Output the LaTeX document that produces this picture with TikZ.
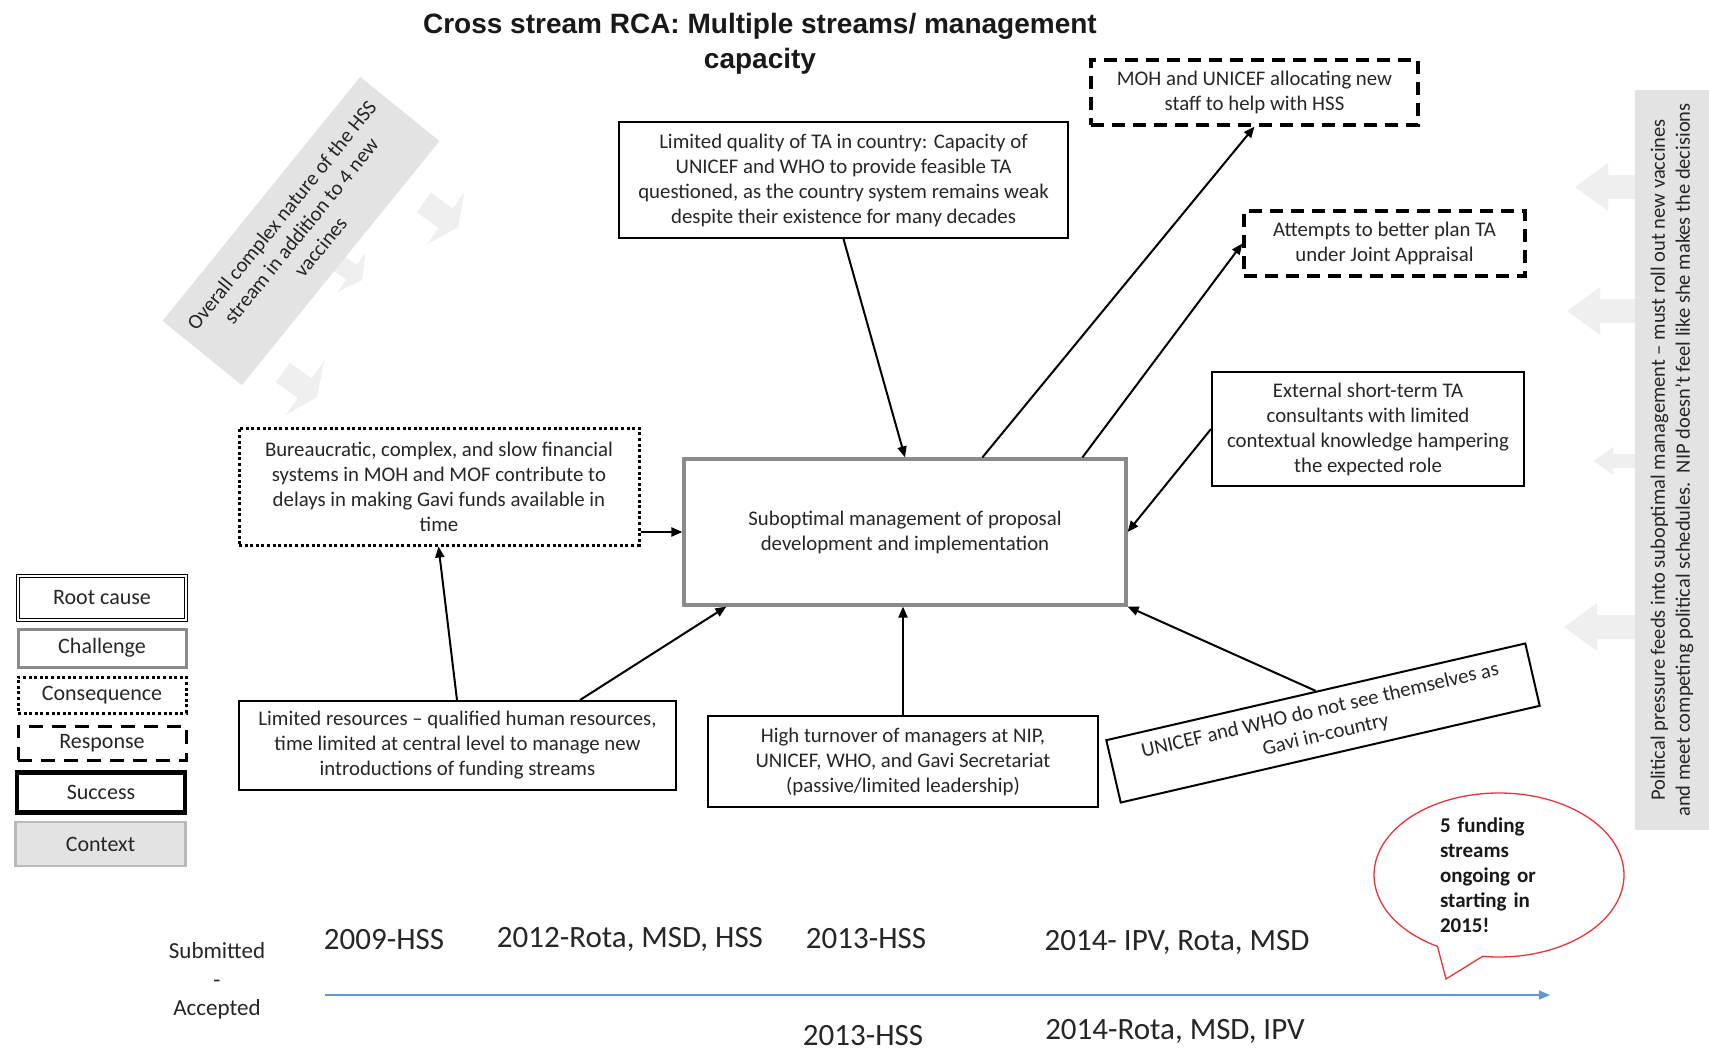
\documentclass[tikz,border=0pt]{standalone}
\usepackage{fontspec}
\setmainfont{Carlito}
\newfontfamily\titlefont{Liberation Sans}
\usetikzlibrary{arrows.meta,calc,shapes.callouts}
\definecolor{ctxgray}{HTML}{E3E3E3}
\definecolor{arrgray}{HTML}{EFEFEF}
\definecolor{midgray}{HTML}{8A8A8A}
\definecolor{tlblue}{HTML}{5B9BD5}
\definecolor{bubred}{HTML}{EE3333}
\newcommand\grayarrow[8]{% tip x, tip y, rotate, head len, head half, shaft half, shaft end
  \fill[arrgray, shift={(#1,#2)}, rotate=#3] (0,0) -- (#4,-#5) -- (#4,-#6) -- (#7,-#6) -- (#7,#6) -- (#4,#6) -- (#4,#5) -- cycle;}
\begin{document}
\begin{tikzpicture}[x=1pt,y=-1pt,
  txt/.style={font=\fontsize{20.8}{25}\selectfont, align=center, text=black!85},
  plainbox/.style={txt, draw=black, line width=2pt, inner sep=0pt},
  chalbox/.style={txt, draw=midgray, line width=3.2pt, inner sep=0pt},
  consbox/.style={txt, draw=black, line width=3pt, dash pattern=on 3pt off 2.6pt, inner sep=0pt},
  respbox/.style={txt, draw=black, line width=3.2pt, dash pattern=on 13pt off 8pt, inner sep=0pt},
  ctxbox/.style={txt, fill=ctxgray, inner sep=0pt},
  conn/.style={draw=black, line width=2pt, -{Triangle[length=11pt,width=9pt]}},
  leg/.style={font=\fontsize{22}{24}\selectfont, text=black!85, inner sep=0pt, minimum width=168},
  yeartxt/.style={font=\fontsize{31}{34}\selectfont, text=black!85, inner sep=0pt},
]
\fill[white] (0,0) rectangle (1709,1051);
\useasboundingbox (0,0) rectangle (1709,1051);

% title
\node[font=\titlefont\bfseries\fontsize{28}{35}\selectfont, align=center, text=black!90] (title) at (760,44)
  {Cross stream RCA: Multiple streams/ management\\capacity};

% faint arrows from the context boxes
\grayarrow{458}{227}{144.4}{15}{32}{12}{42}{}
\grayarrow{362}{280}{144.4}{13}{24}{9}{34}{}
\grayarrow{317}{397}{144.4}{15}{33}{12}{42}{}
\grayarrow{1575}{187}{0}{33}{24}{12}{70}{}
\grayarrow{1567}{311}{0}{33}{24}{12}{75}{}
\grayarrow{1594}{461}{0}{19}{14}{7}{50}{}
\grayarrow{1564}{627}{0}{33}{24}{12}{75}{}

% context boxes
\node[ctxbox, rotate=51, minimum width=314, minimum height=102] (ctx) at (301,231)
  {Overall complex nature of the HSS\\stream in addition to 4 new\\vaccines};
\node[ctxbox, rotate=90, minimum width=740, minimum height=74, font=\fontsize{20.5}{25}\selectfont] (pol) at (1672,460)
  {Political pressure feeds into suboptimal management -- must roll out new vaccines\\and meet competing political schedules.\ \ NIP doesn't feel like she makes the decisions};

% main boxes
\node[plainbox, minimum width=449, minimum height=116] (lq) at (843.5,180)
  {Limited quality of TA in country: Capacity of\\UNICEF and WHO to provide feasible TA\\questioned, as the country system remains weak\\despite their existence for many decades};
\node[respbox, minimum width=327, minimum height=65] (moh) at (1254.5,92.5)
  {MOH and UNICEF allocating new\\staff to help with HSS};
\node[respbox, minimum width=281, minimum height=65] (att) at (1384.5,243.5)
  {Attempts to better plan TA\\under Joint Appraisal};
\node[plainbox, minimum width=312, minimum height=114] (ext) at (1368,429)
  {External short-term TA\\consultants with limited\\contextual knowledge hampering\\the expected role};
\node[consbox, minimum width=400, minimum height=117] (bur) at (439,486.5)
  {Bureaucratic, complex, and slow financial\\systems in MOH and MOF contribute to\\delays in making Gavi funds available in\\time};
\node[chalbox, minimum width=442, minimum height=146] (ctr) at (905,532)
  {Suboptimal management of proposal\\development and implementation};
\node[plainbox, minimum width=437, minimum height=89] (lr) at (457.5,745.5)
  {Limited resources -- qualified human resources,\\time limited at central level to manage new\\introductions of funding streams};
\node[plainbox, minimum width=390, minimum height=91] (ht) at (903,761.5)
  {High turnover of managers at NIP,\\UNICEF, WHO, and Gavi Secretariat\\(passive/limited leadership)};
\node[plainbox, rotate=13, minimum width=430, minimum height=64] (uni) at (1323,723)
  {UNICEF and WHO do not see themselves as\\Gavi in-country};

% connectors
\draw[conn] (lq.south) -- (ctr.north);
\draw[conn] ($(ctr.north west)+(300,0)$) -- (moh.south);
\draw[conn] ($(ctr.north west)+(400,0)$) -- (att.west);
\draw[conn] (ext.west) -- (ctr.east);
\draw[conn] (uni.north) -- (ctr.south east);
\draw[conn] (ht.north) -- (ht.north |- ctr.south);
\draw[conn] ($(lr.north west)+(342,0)$) -- ($(ctr.south west)+(44,0)$);
\draw[conn] ($(lr.north west)+(219,0)$) -- ($(bur.south west)+(201,0)$);
\draw[conn] (bur.east |- ctr.west) -- (ctr.west);

% legend
\node[leg, draw=black, double=white, line width=1.4pt, double distance=2pt, minimum height=44] (lroot) at (102,598) {Root cause};
\node[leg, draw=midgray, line width=3pt, minimum height=38] (lchal) at (102,648) {Challenge};
\node[leg, draw=black, line width=3pt, dash pattern=on 3pt off 2.6pt, minimum height=36] (lcons) at (102,695) {Consequence};
\node[leg, draw=black, line width=3pt, dash pattern=on 14pt off 9pt, minimum height=34] (lresp) at (102,743) {Response};
\node[leg, draw=black, line width=4.5pt, minimum width=168, minimum height=40] (lsucc) at (101,792.5) {Success};
\node[leg, draw=midgray!60, fill=ctxgray, line width=2.5pt, minimum width=170, minimum height=44] (lctx) at (100.5,844) {Context};

% timeline
\node[font=\fontsize{23}{28.4}\selectfont, align=center, text=black!85] (subacc) at (217,981) {Submitted\\-\\Accepted};
\coordinate (tls) at (325,995);
\coordinate (tle) at (1550,995);
\draw[tlblue, line width=1.4pt, -{Triangle[length=11pt,width=9pt]}] (tls) -- (tle);
\node[yeartxt] (y1) at (384,940) {2009-HSS};
\node[yeartxt] (y2) at (630,939) {2012-Rota, MSD, HSS};
\node[yeartxt] (y3) at (866,939) {2013-HSS};
\node[yeartxt] (y4) at (1177,942) {2014- IPV, Rota, MSD};
\node[yeartxt] (y5) at (863,1036) {2013-HSS};
\node[yeartxt] (y6) at (1175,1031) {2014-Rota, MSD, IPV};

% speech bubble
\node[ellipse callout, draw=bubred, line width=1.3pt, fill=white, minimum width=250, minimum height=164, inner sep=0pt,
  callout absolute pointer={(1446,979)}, callout pointer arc=22,
  font=\bfseries\fontsize{21}{25}\selectfont, align=left, text width=118, text=black!90] (bub) at (1499,875)
  {5 funding\\streams\\ongoing or\\starting in\\2015!};
\end{tikzpicture}
\end{document}
